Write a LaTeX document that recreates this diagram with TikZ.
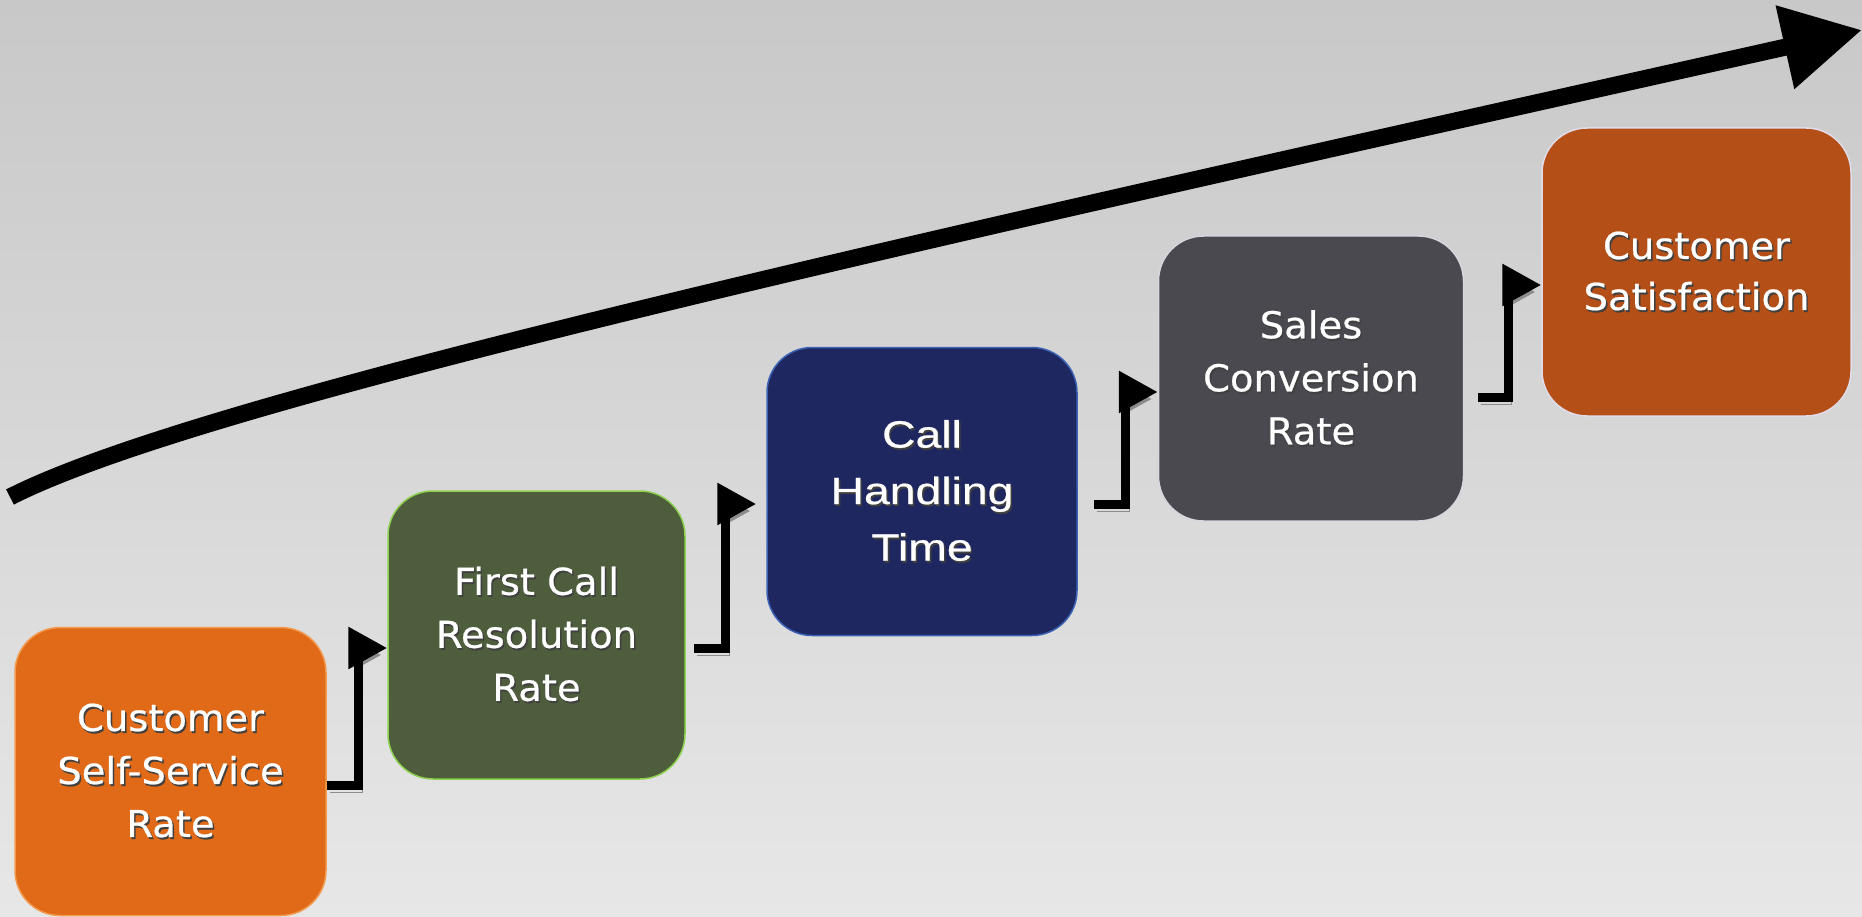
\documentclass[tikz,border=0pt]{standalone}
\usepackage{fontspec}
\newfontfamily\kpifont[FakeStretch=1.04, FakeBold=0.6]{DejaVu Sans}
\newfontfamily\kpiarial[FakeStretch=1.22, FakeBold=0.6]{Liberation Sans}
\usetikzlibrary{arrows.meta,positioning}

\definecolor{bgtop}{HTML}{C8C8C8}
\definecolor{bgbot}{HTML}{E7E7E7}
\definecolor{selfsvc}{HTML}{E06A17}
\definecolor{selfsvcrim}{HTML}{F29A50}
\definecolor{fcr}{HTML}{4E5D3B}
\definecolor{fcrrim}{HTML}{8DD14F}
\definecolor{aht}{HTML}{1F2760}
\definecolor{ahtrim}{HTML}{3B62B5}
\definecolor{conv}{HTML}{4A4950}
\definecolor{convrim}{HTML}{D6D6DE}
\definecolor{csat}{HTML}{B34F17}
\definecolor{csatrim}{HTML}{E2DCE8}

% white label with a small dark drop shadow
\newcommand\kpish[1]{\makebox[0pt][l]{\kern1.5pt\raisebox{-2pt}{\textcolor{black!75}{#1}}}#1}

\begin{document}
\begin{tikzpicture}[
    x=1pt, y=-1pt,
    kpi/.style={draw, line width=1.5pt, rounded corners=45pt, inner sep=0pt,
                minimum width=308pt, minimum height=288pt,
                align=center, text=white,
                font=\kpifont\fontsize{37pt}{53pt}\selectfont},
    stepconn/.style={line width=9pt, -{Triangle[length=39pt, width=40pt]},
                     preaction={draw=black!45, transform canvas={shift={(3pt,-7pt)}}}},
    trend/.style={line width=17pt, -{Triangle[length=79pt, width=81pt]},
                  preaction={draw=black!40, transform canvas={shift={(2pt,-4pt)}}}}
]
    % page and backdrop
    \useasboundingbox (0,0) rectangle (1862,917);
    \shade[top color=bgtop, bottom color=bgbot] (0,0) rectangle (1862,917);

    % the five metrics, climbing to the right
    \node[kpi, fill=selfsvc, draw=selfsvcrim, minimum width=311pt] (b1) at (170.5,771.5)
        {\kpish{Customer}\\\kpish{Self-Service}\\\kpish{Rate}};
    \node[kpi, fill=fcr, draw=fcrrim, minimum width=297pt] (b2) at (536.5,635)
        {\kpish{First Call}\\\kpish{Resolution}\\\kpish{Rate}};
    \node[kpi, fill=aht, draw=ahtrim, minimum width=310pt,
          font=\kpiarial\fontsize{38pt}{56.5pt}\selectfont] (b3) at (922,491.5)
        {\kpish{Call}\\\kpish{Handling}\\\kpish{Time}};
    \node[kpi, fill=conv, draw=convrim, minimum width=305pt, minimum height=285pt] (b4) at (1311,378.5)
        {\kpish{Sales}\\\kpish{Conversion}\\\kpish{Rate}};
    \node[kpi, fill=csat, draw=csatrim, minimum width=309pt,
          font=\kpifont\fontsize{37pt}{51pt}\selectfont] (b5) at (1696.5,272)
        {\kpish{Customer}\\\kpish{Satisfaction}};

    % step connectors between neighbours
    \draw[stepconn] ([yshift=-13.5pt]b1.east) -- ++(32,0) |- ([yshift=-13pt]b2.west);
    \draw[stepconn] ([xshift=8pt,yshift=-13pt]b2.east) -- ++(32,0) |- ([xshift=-10pt,yshift=-12.5pt]b3.west);
    \draw[stepconn] ([xshift=16pt,yshift=-12.5pt]b3.east) -- ++(32,0) |- ([yshift=-13.5pt]b4.west);
    \draw[stepconn] ([xshift=14pt,yshift=-18.5pt]b4.east) -- ++(30,0) |- ([yshift=-13pt]b5.west);

    % long rising arrow over the steps
    \coordinate (trendstart) at (10,497);
    \coordinate (trendend) at (1862,30);
    \draw[trend] (trendstart) .. controls (200,400) and (900,245) .. (trendend);
\end{tikzpicture}
\end{document}
